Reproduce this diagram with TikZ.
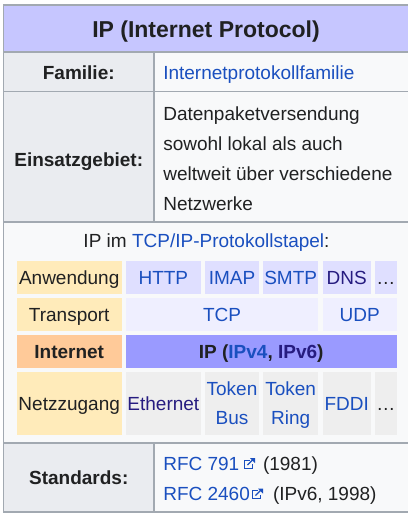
\documentclass[tikz,border=0pt]{standalone}
\usepackage{fontspec}
\setmainfont{Liberation Sans}
\definecolor{bordergray}{HTML}{A2A9B1}
\definecolor{labelbg}{HTML}{EAECF0}
\definecolor{valbg}{HTML}{F8F9FA}
\definecolor{titlebg}{HTML}{C6C6FF}
\definecolor{txt}{HTML}{202122}
\definecolor{linkblue}{HTML}{1A4FBF}
\definecolor{visited}{HTML}{261C80}
\definecolor{layerbg}{HTML}{FFEBBA}
\definecolor{inetbg}{HTML}{FFCA99}
\definecolor{appbg}{HTML}{DFDFFF}
\definecolor{transbg}{HTML}{EFEFFF}
\definecolor{ipbg}{HTML}{9A9AFF}
\definecolor{netbg}{HTML}{EEEEEE}
\tikzset{
  txtfont/.style={font=\fontsize{19}{29}\selectfont},
  cellbox/.style 2 args={minimum width=#1pt, minimum height=#2pt, inner sep=0pt, outer sep=0pt,
     text height=13.7pt, text depth=0pt, txtfont, text=txt},
  plainbox/.style 2 args={minimum width=#1pt, minimum height=#2pt, inner sep=0pt, outer sep=0pt},
  linetext/.style={inner sep=0pt, outer sep=0pt, txtfont, text=txt, anchor=base},
  rule/.style={draw=bordergray, line width=1.3pt},
  extlinkicon/.pic={
    \draw[linkblue, line width=1pt] (5,2) -- (0,2) -- (0,10) -- (8,10) -- (8,6);
    \draw[linkblue, line width=1.2pt] (3,7) -- (8.5,1.5);
    \fill[linkblue] (5.5,0) -- (10.5,0) -- (10.5,5) -- cycle;
  }
}
\begin{document}
\begin{tikzpicture}[x=1pt,y=-1pt]
\useasboundingbox (0,0) rectangle (408,514);
% backgrounds
\fill[white] (0,0) rectangle (408,514);
\fill[valbg] (3.5,5) rectangle (408,512);
\fill[titlebg] (3.5,5) rectangle (408,52);
\fill[labelbg] (3.5,52) rectangle (154,222);
\fill[labelbg] (3.5,443) rectangle (154,512);
% rules
\draw[rule] (3.5,5) -- (408,5);
\draw[rule] (3.5,52) -- (408,52);
\draw[rule] (3.5,91.5) -- (408,91.5);
\draw[rule] (3.5,222) -- (408,222);
\draw[rule] (3.5,443) -- (408,443);
\draw[rule] (3.5,512) -- (408,512);
\draw[rule] (3.5,4.35) -- (3.5,512.65);
\draw[rule] (154,52) -- (154,222);
\draw[rule] (154,443) -- (154,512);
% title
\node[linetext, font=\fontsize{23}{28}\selectfont\bfseries] (title) at (206,37.3) {IP (Internet Protocol)};
% Familie
\node[linetext, font=\fontsize{19}{29}\selectfont\bfseries] (famlabel) at (78.75,79.3) {Familie:};
\node[linetext, anchor=base west, text=linkblue] (famval) at (163.3,79.3) {Internetprotokollfamilie};
% Einsatzgebiet
\node[linetext, font=\fontsize{19}{29}\selectfont\bfseries] (einlabel) at (78.75,166) {Einsatzgebiet:};
\node[linetext, anchor=base west] (einA) at (163.3,120) {Datenpaketversendung};
\node[linetext, anchor=base west] (einB) at (163.3,150) {sowohl lokal als auch};
\node[linetext, anchor=base west] (einC) at (163.3,180) {weltweit über verschiedene};
\node[linetext, anchor=base west] (einD) at (163.3,210) {Netzwerke};
% stack heading
\node[linetext] (stackhead) at (206.5,247.7) {IP im \textcolor{linkblue}{TCP/IP-Protokollstapel}:};
% row 1: Anwendung
\node[cellbox={105}{33}, fill=layerbg] (anw) at (69.2,277.5) {Anwendung};
\node[cellbox={75.3}{33}, fill=appbg, text=linkblue] (http) at (163.35,277.5) {HTTP};
\node[cellbox={54}{33}, fill=appbg, text=linkblue] (imap) at (232,277.5) {IMAP};
\node[cellbox={55.3}{33}, fill=appbg, text=linkblue] (smtp) at (290.65,277.5) {SMTP};
\node[cellbox={48}{33}, fill=appbg, text=visited] (dns) at (346.7,277.5) {DNS};
\node[cellbox={21.7}{33}, fill=appbg] (appmore) at (385.85,277.5) {…};
% row 2: Transport
\node[cellbox={105}{33.3}, fill=layerbg] (trans) at (69.2,314.35) {Transport};
\node[cellbox={192.6}{33.3}, fill=transbg, text=linkblue] (tcp) at (222,314.35) {TCP};
\node[cellbox={74}{33.3}, fill=transbg, text=linkblue] (udp) at (359.7,314.35) {UDP};
% row 3: Internet
\node[cellbox={105}{32.7}, fill=inetbg, font=\fontsize{19}{29}\selectfont\bfseries] (inet) at (69.2,351.35) {Internet};
\node[cellbox={271}{32.7}, fill=ipbg, font=\fontsize{19}{29}\selectfont\bfseries] (ip) at (261.2,351.35)
  {IP (\textcolor{linkblue}{IPv4}, \textcolor{visited}{IPv6})};
% row 4: Netzzugang
\node[cellbox={105}{62.5}, fill=layerbg] (netz) at (69.2,403.25) {Netzzugang};
\node[cellbox={75.3}{62.5}, fill=netbg, text=visited] (eth) at (163.35,403.25) {Ethernet};
\node[plainbox={54}{62.5}, fill=netbg] (tbus) at (232,403.25) {};
\node[linetext, text=linkblue] (tbusA) at (232,395.3) {Token};
\node[linetext, text=linkblue] (tbusB) at (232,424.6) {Bus};
\node[plainbox={55.3}{62.5}, fill=netbg] (tring) at (290.65,403.25) {};
\node[linetext, text=linkblue] (tringA) at (290.65,395.3) {Token};
\node[linetext, text=linkblue] (tringB) at (290.65,424.6) {Ring};
\node[cellbox={48}{62.5}, fill=netbg, text=linkblue] (fddi) at (346.7,403.25) {FDDI};
\node[cellbox={21.7}{62.5}, fill=netbg] (netmore) at (385.85,403.25) {…};
% Standards
\node[linetext, font=\fontsize{19}{29}\selectfont\bfseries] (stdlabel) at (78.75,484.5) {Standards:};
\node[linetext, anchor=base west, text=linkblue] (rfcA) at (163.3,470) {RFC 791};
\pic at (244.5,458) {extlinkicon};
\node[linetext, anchor=base west] (rfcAyear) at (263,470) {(1981)};
\node[linetext, anchor=base west, text=linkblue] (rfcB) at (163.3,500.5) {RFC 2460};
\pic at (252.5,488.5) {extlinkicon};
\node[linetext, anchor=base west] (rfcByear) at (273,500.5) {(IPv6, 1998)};
\end{tikzpicture}
\end{document}
